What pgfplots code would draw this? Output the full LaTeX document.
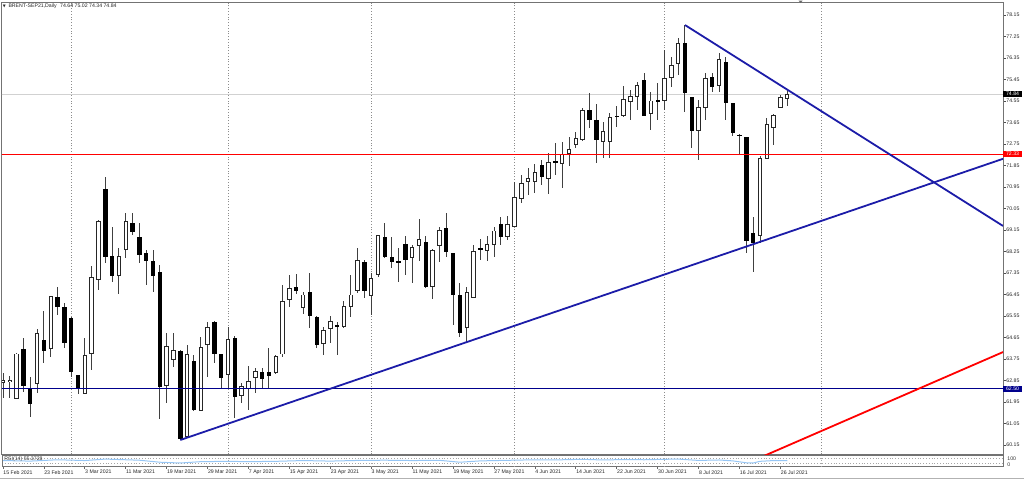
\documentclass[border=0pt]{standalone}
\usepackage{fontspec}
\setmainfont{Liberation Sans}
\newfontfamily\dejavu{DejaVu Sans}
\usepackage{pgfplots}
\usepackage{pgfplotstable}
\pgfplotsset{compat=1.18}

\definecolor{tlblue}{RGB}{28,28,168}
\definecolor{hlnavy}{RGB}{0,0,140}
\definecolor{rsiblue}{RGB}{150,198,245}
\newcommand{\tf}{\fontsize{2.6}{3}\selectfont}

% daily OHLC, bar index 0 = 15 Feb 2021
\pgfplotstableread{
i o h l c
0 62.75 63.15 62.10 62.87
1 62.82 63.04 62.10 62.87
2 62.10 64.02 62.06 63.96
3 64.17 64.62 62.38 62.62
4 62.49 63.01 61.31 61.85
5 62.73 64.99 62.34 64.83
6 64.55 65.77 63.57 64.10
7 64.17 66.40 63.85 66.36
8 66.33 66.78 65.59 65.94
9 65.91 66.11 64.20 64.41
10 65.48 65.50 63.01 63.22
11 63.08 63.10 62.29 62.49
12 62.31 64.64 62.29 63.89
13 63.99 67.66 63.29 67.17
14 67.06 69.55 66.64 69.50
15 70.85 71.36 67.76 68.03
16 68.06 69.26 66.99 67.23
17 67.23 68.38 66.47 68.06
18 68.34 69.85 67.96 69.50
19 69.46 69.85 68.94 69.08
20 68.87 69.43 67.76 68.10
21 68.20 68.31 66.85 67.87
22 67.87 68.31 66.57 67.23
23 67.41 67.69 61.23 62.59
24 62.66 64.85 61.92 64.27
25 63.74 64.82 63.43 64.10
26 64.10 64.12 60.36 60.39
27 60.50 64.34 60.43 63.92
28 63.68 63.92 61.57 61.61
29 61.59 64.66 61.57 64.24
30 64.34 65.31 63.01 65.08
31 65.31 65.33 63.57 63.96
32 63.95 63.97 62.48 62.94
33 63.09 65.10 62.48 64.57
34 64.62 64.71 61.27 62.15
35 62.24 62.73 61.89 62.59
36 62.52 63.46 61.62 62.80
37 62.98 63.36 62.34 63.22
38 63.22 63.36 62.55 62.91
39 63.22 64.20 62.48 63.04
40 63.19 63.92 63.12 63.85
41 63.96 66.85 63.82 66.15
42 66.25 67.27 65.94 66.71
43 66.78 67.31 66.47 66.61
44 65.91 66.57 65.63 66.43
45 66.54 67.34 65.03 65.56
46 65.52 65.54 64.20 64.34
47 64.41 65.10 63.92 64.96
48 65.03 65.56 64.43 65.31
49 65.15 65.31 63.92 65.11
50 65.11 66.18 65.03 65.94
51 65.94 67.27 65.52 66.43
52 66.61 68.38 66.53 67.89
53 67.82 67.89 66.29 66.61
54 66.39 67.34 65.59 67.13
55 67.27 68.94 67.20 68.91
56 68.84 69.46 67.96 68.03
57 68.01 68.87 67.55 67.80
58 67.85 68.38 66.99 67.80
59 68.56 68.90 67.27 67.90
60 68.01 68.52 66.92 68.42
61 68.52 69.60 67.87 68.76
62 68.66 68.90 66.71 66.75
63 66.78 68.34 66.25 68.31
64 68.52 69.26 67.83 69.15
65 69.22 69.85 68.03 68.21
66 68.17 68.19 65.17 66.43
67 66.43 66.95 64.66 64.85
68 65.08 66.78 64.43 66.53
69 66.33 68.52 66.31 68.24
70 68.38 68.76 67.90 68.34
71 68.29 68.90 67.87 68.55
72 68.56 69.29 68.03 69.11
73 69.39 69.71 68.52 68.87
74 68.87 69.74 68.73 69.39
75 69.29 71.17 69.27 70.52
76 70.48 71.45 70.30 71.10
77 71.17 71.73 70.62 71.31
78 71.17 71.91 70.71 71.55
79 71.87 72.08 71.03 71.36
80 71.31 72.36 70.66 71.97
81 72.05 72.81 71.45 71.94
82 71.94 72.85 70.89 72.29
83 72.36 73.06 71.83 72.54
84 72.71 73.27 72.57 72.99
85 72.92 74.24 72.89 74.15
86 74.17 74.90 73.41 73.76
87 73.76 74.42 71.97 72.92
88 72.85 73.69 72.15 73.27
89 72.85 74.06 72.15 73.87
90 73.94 74.34 73.45 73.89
91 73.96 75.18 73.89 74.62
92 74.52 75.01 73.76 74.73
93 74.73 75.36 74.17 75.18
94 75.43 75.71 73.92 73.94
95 74.03 74.94 73.34 74.55
96 74.59 75.29 73.76 74.55
97 74.59 76.68 74.17 75.50
98 75.54 76.41 75.15 76.02
99 76.10 77.17 75.64 76.94
100 76.99 77.73 74.10 74.87
101 74.70 74.72 72.57 73.31
102 73.31 74.59 72.08 74.29
103 74.29 75.74 73.76 75.50
104 75.54 75.71 74.94 75.12
105 75.18 76.55 74.94 76.27
106 76.20 76.40 73.76 74.45
107 74.45 74.47 73.09 73.20
108 73.13 73.15 72.29 73.09
109 73.03 73.05 68.17 68.71
110 69.01 69.68 67.41 68.59
111 68.90 72.25 68.62 72.15
112 72.15 73.83 72.13 73.55
113 73.45 74.01 72.71 73.96
114 74.29 74.80 74.24 74.70
115 74.64 75.02 74.34 74.84
}\ohlc

\pgfplotsset{
  candle/.style={draw=none, mark=none, forget plot,
    error bars/y dir=both, error bars/y explicit, error bars/error mark=none},
}

\begin{document}
\begin{tikzpicture}
\useasboundingbox (0,0) rectangle (512pt,-241pt);

\begin{axis}[
  at={(1pt,-1.5pt)}, anchor=north west,
  scale only axis, width=500.5pt, height=225.65pt,
  xmin=-0.147, xmax=146.63, ymin=59.761, ymax=78.652,
  axis line style={black!55, line width=0.5pt},
  clip mode=individual,
  xtick={10,33,54,75,97,120}, xticklabels={},
  xmajorgrids, grid style={densely dotted, black!45, line width=0.4pt},
  xtick style={draw=none},
  ytick pos=right, yticklabel pos=right,
  ytick={60.15,61.05,61.95,62.85,63.75,64.65,65.55,66.45,67.35,68.25,69.15,70.05,70.95,71.85,72.75,73.65,74.55,75.45,76.35,77.25,78.15},
  yticklabels={60.15,61.05,61.95,62.85,63.75,64.65,65.55,66.45,67.35,68.25,69.15,70.05,70.95,71.85,72.75,73.65,74.55,75.45,76.35,77.25,78.15},
  ytick style={black!70, line width=0.4pt},
  major tick length=1.5pt, tick align=outside,
  yticklabel style={font=\tf, inner sep=0pt, anchor=west, text=black!85},
]
% current price line
\addplot[black!18, line width=0.5pt, forget plot] coordinates {(-1,74.84) (147,74.84)};

% wicks
\addplot[candle, error bars/error bar style={draw=black!75, line width=0.5pt, line cap=butt}]
  table[x=i, y expr={(\thisrow{h}+\thisrow{l})/2}, y error expr={(\thisrow{h}-\thisrow{l})/2}] {\ohlc};

% bearish bodies
\addplot[candle, restrict expr to domain={\thisrow{c}-\thisrow{o}}{-1000:-0.000001},
  error bars/error bar style={draw=black, line width=2.2pt, line cap=butt}]
  table[x=i, y expr={(\thisrow{o}+\thisrow{c})/2}, y error expr={max(abs(\thisrow{o}-\thisrow{c})/2,0.025)}] {\ohlc};

% bullish bodies: outline then fill
\addplot[candle, restrict expr to domain={\thisrow{c}-\thisrow{o}}{0:1000},
  error bars/error bar style={draw=black!85, line width=2.2pt, line cap=butt}]
  table[x=i, y expr={(\thisrow{o}+\thisrow{c})/2}, y error expr={max(abs(\thisrow{o}-\thisrow{c})/2+0.02,0.03)}] {\ohlc};
\addplot[candle, restrict expr to domain={\thisrow{c}-\thisrow{o}}{0:1000},
  error bars/error bar style={draw=white, line width=1.2pt, line cap=butt}]
  table[x=i, y expr={(\thisrow{o}+\thisrow{c})/2}, y error expr={max(abs(\thisrow{o}-\thisrow{c})/2-0.02,0)}] {\ohlc};

% horizontal levels and trend lines
\addplot[red, line width=0.5pt] coordinates {(-1,72.33) (147,72.33)};
\addplot[hlnavy, line width=0.5pt] coordinates {(-1,62.50) (147,62.50)};
\addplot[tlblue, line width=0.9pt] coordinates {(26,60.36) (146.63,72.13)};
\addplot[tlblue, line width=0.9pt] coordinates {(100,77.73) (146.63,69.32)};
\addplot[red, line width=0.9pt] coordinates {(111,59.62) (146.63,64.04)};

% price boxes on the scale
\node[fill=black, text=white, font=\tf, inner sep=0pt, minimum width=9.2pt, minimum height=3pt, anchor=west]
  at (axis cs:146.63,74.84) {74.84};
\node[fill=red, text=white, font=\tf, inner sep=0pt, minimum width=9.2pt, minimum height=3pt, anchor=west]
  at (axis cs:146.63,72.33) {72.33};
\node[fill=hlnavy, text=white, font=\tf, inner sep=0pt, minimum width=9.2pt, minimum height=3pt, anchor=west]
  at (axis cs:146.63,62.50) {62.50};
\end{axis}

% RSI sub-window
\begin{axis}[
  at={(1pt,-227.75pt)}, anchor=north west,
  scale only axis, width=500.5pt, height=5.6pt,
  xmin=-0.147, xmax=146.63, ymin=0, ymax=100,
  axis line style={black!55, line width=0.5pt},
  clip mode=individual,
  xtick={0,6,...,114},
  xticklabels={15 Feb 2021,23 Feb 2021,3 Mar 2021,11 Mar 2021,19 Mar 2021,29 Mar 2021,7 Apr 2021,15 Apr 2021,23 Apr 2021,3 May 2021,11 May 2021,19 May 2021,27 May 2021,4 Jun 2021,14 Jun 2021,22 Jun 2021,30 Jun 2021,8 Jul 2021,16 Jul 2021,26 Jul 2021},
  xticklabel style={font=\tf, inner sep=0pt, anchor=north west, text=black!85, yshift=-0.6pt},
  xtick pos=bottom, tick align=outside, major tick length=1pt,
  xtick style={black!60, line width=0.4pt},
  extra x ticks={10,33,54,75,97,120}, extra x tick labels={},
  extra x tick style={xmajorgrids=true, major tick length=0pt},
  ytick={30,70}, yticklabels={}, ymajorgrids, ytick style={draw=none},
  grid style={densely dotted, black!35, line width=0.4pt},
]
\addplot[rsiblue, line width=0.5pt] coordinates {
(0,55) (4,50) (8,62) (12,55) (15,68) (18,62) (20,58) (23,40) (26,33) (29,45)
(33,48) (36,45) (40,48) (44,55) (48,50) (52,56) (56,58) (60,55) (64,57) (67,40)
(70,52) (74,57) (78,62) (82,62) (85,66) (88,60) (91,64) (94,62) (97,66) (99,68)
(102,56) (105,60) (107,52) (109,35) (110,33) (111,48) (113,55) (115,55.37)};
\node[font=\tf, inner sep=0pt, anchor=north west, text=black!80] at (rel axis cs:0.002,0.92) {RSI(14) 55.3728};
\node[font=\tf, inner sep=0pt, anchor=west, text=black!80] at (rel axis cs:1.004,0.7) {100};
\node[font=\tf, inner sep=0pt, anchor=west, text=black!80] at (rel axis cs:1.004,0.2) {0};
\end{axis}

% title and window furniture
\node[font=\tf, inner sep=0pt, anchor=west, text=black!85]
  at (1.2pt,-3.3pt) {{\dejavu\fontsize{1.9}{2}\selectfont ▼}\hspace{1.4pt}BRENT-SEP21,Daily\hspace{1pt} 74.64 75.02 74.34 74.84};
\fill[black!60] (399.3pt,-0.3pt) -- (401.3pt,-0.3pt) -- (400.3pt,-1.5pt) -- cycle;
\draw[black!30, line width=0.5pt] (0,-239.3pt) -- (512pt,-239.3pt);
\end{tikzpicture}
\end{document}
